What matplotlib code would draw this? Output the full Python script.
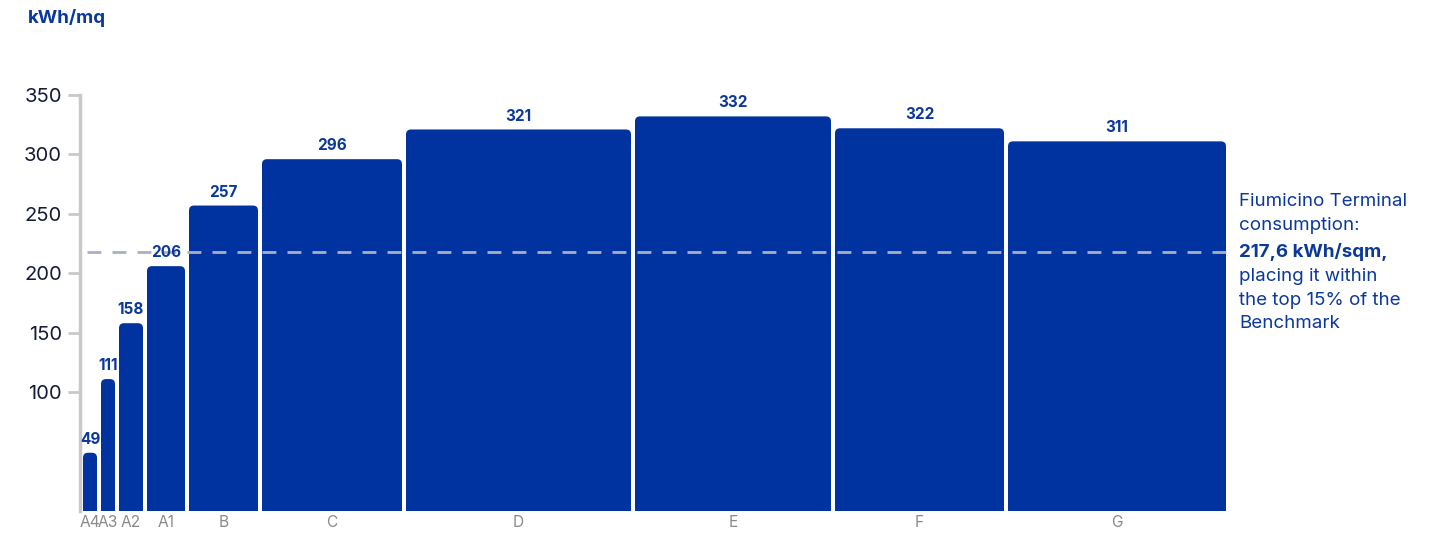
import matplotlib.pyplot as plt
import numpy as np
from matplotlib.patches import FancyBboxPatch

# Data
classes = ['A4', 'A3', 'A2', 'A1', 'B', 'C', 'D', 'E', 'F', 'G']
values = [49, 111, 158, 206, 257, 296, 321, 332, 322, 311]
widths = [18, 18, 28, 42, 73, 144, 229, 200, 173, 222]  # relative share per class
fiumicino = 217.6
y_ticks = [100, 150, 200, 250, 300, 350]

BLUE = '#0033a0'
TEXT_BLUE = '#0b389c'
GREY = '#c9c9c9'

plt.rcParams['font.family'] = ['Inter', 'DejaVu Sans']

fig = plt.figure(figsize=(14.33, 5.34), dpi=100)
ax = fig.add_axes([80 / 1433, 23 / 534, 1151 / 1433, 416 / 534])

lefts = np.concatenate([[0], np.cumsum(widths)[:-1]])
centers = lefts + np.array(widths) / 2
gap = 4

# bars with rounded top corners
px_per_y = (416 / 350)
for c, w, v in zip(centers, widths, values):
    bw = w - gap
    box = FancyBboxPatch((c - bw / 2, -20), bw, v + 20,
                         boxstyle='round,pad=0,rounding_size=5',
                         mutation_aspect=1 / px_per_y,
                         facecolor=BLUE, edgecolor='none', zorder=2)
    ax.add_patch(box)
    ax.text(c, v + 5, str(v), ha='center', va='bottom', fontsize=11,
            fontweight='bold', color=TEXT_BLUE, zorder=4)

# benchmark line
ax.plot([6, sum(widths) + 8], [fiumicino, fiumicino], color='#a9b0c0',
        linestyle=(0, (5, 4)), linewidth=2, zorder=3, clip_on=False)

note_x = sum(widths) + 11
ax.text(note_x, fiumicino, '217,6 kWh/sqm,', ha='left', va='center',
        fontsize=13.5, fontweight='bold', color=TEXT_BLUE, clip_on=False)
above = [('consumption:', 19.5), ('Fiumicino Terminal', 36.5)]
below = [('placing it within', 17.3), ('the top 15% of the', 34.3), ('Benchmark', 51.3)]
for line, off in above:
    ax.annotate(line, (note_x, fiumicino), xytext=(0, off),
                textcoords='offset points', ha='left', va='center',
                fontsize=13.5, color=TEXT_BLUE, annotation_clip=False)
for line, off in below:
    ax.annotate(line, (note_x, fiumicino), xytext=(0, -off),
                textcoords='offset points', ha='left', va='center',
                fontsize=13.5, color=TEXT_BLUE, annotation_clip=False)

ax.set_xlim(-1, 1150)
ax.set_ylim(0, 350)
ax.set_yticks(y_ticks)
ax.set_yticklabels([str(t) for t in y_ticks], fontsize=14.5, color='#161a38')
ax.set_xticks(centers)
ax.set_xticklabels(classes, fontsize=11.2, color='#8a8a8a')
ax.tick_params(axis='y', length=9, width=2, color=GREY, pad=4)
ax.tick_params(axis='x', length=0, pad=3)

for s in ['top', 'right', 'bottom']:
    ax.spines[s].set_visible(False)
ax.spines['left'].set_color(GREY)
ax.spines['left'].set_linewidth(2.5)

fig.text(28 / 1433, 1 - 18 / 534, 'kWh/mq', ha='left', va='center',
         fontsize=13.5, fontweight='bold', color=TEXT_BLUE)

fig.savefig('out.png', dpi=100)
